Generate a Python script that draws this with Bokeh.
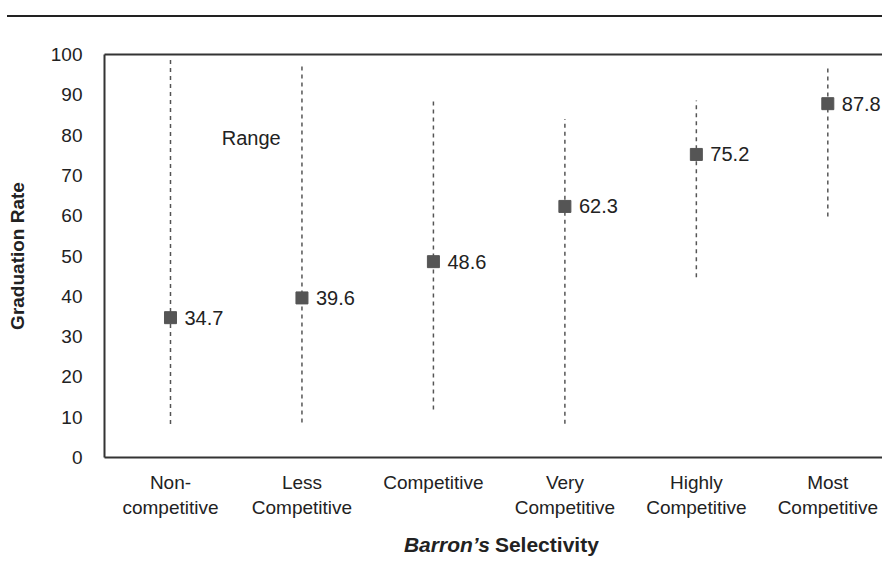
from bokeh.plotting import figure
from bokeh.models import Range1d, FixedTicker, LinearAxis, Label, ColumnDataSource, Div
from bokeh.layouts import column
from bokeh.embed import file_html
from bokeh.resources import INLINE
from bokeh.core.properties import value

# ---- data ----
categories = ["Non-\ncompetitive", "Less\nCompetitive", "Competitive",
              "Very\nCompetitive", "Highly\nCompetitive", "Most\nCompetitive"]
means = [34.7, 39.6, 48.6, 62.3, 75.2, 87.8]
range_low = [8.3, 8.7, 11.9, 8.4, 44.7, 59.8]
range_high = [99.0, 97.5, 88.5, 84.0, 88.6, 97.0]
y_ticks = [0, 10, 20, 30, 40, 50, 60, 70, 80, 90, 100]
y_title = "Graduation Rate"
x_title_italic = "Barron\u2019s"
x_title_rest = "Selectivity"
range_label = "Range"

FONT = "Liberation Sans"
TXT = "#222222"
X_LO, X_HI = -0.502, 5.416

xs = list(range(len(categories)))
src = ColumnDataSource(dict(x=xs, mean=means, lo=range_low, hi=range_high,
                            lab=[f"{m}" for m in means]))

# ---- top rule ----
top = Div(text='<div style="margin:15px 0 0 7px;width:875px;height:2px;background:#222222;"></div>',
          width=882, height=32, margin=0)

# ---- main chart ----
p = figure(width=882, height=495, x_range=Range1d(X_LO, X_HI), y_range=Range1d(0, 100),
           toolbar_location=None, output_backend="svg",
           min_border_left=104, min_border_right=0, min_border_top=22, min_border_bottom=70)
p.outline_line_color = None
p.grid.visible = False
p.background_fill_color = "white"
p.border_fill_color = "white"

p.segment(x0="x", y0="lo", x1="x", y1="hi", source=src, line_dash="4 4",
          line_width=1.5, color="#555555")
p.scatter(x="x", y="mean", source=src, marker="square", size=12,
          fill_color="#555555", line_color="#555555")
p.text(x="x", y="mean", text="lab", source=src, x_offset=14, text_baseline="middle",
       text_font=value(FONT), text_font_size="20px", text_color=TXT)

p.add_layout(Label(x=0.39, y=79.2, text=range_label, text_baseline="middle",
                   text_font=FONT, text_font_size="20px", text_color=TXT))

# y axis
ya = p.yaxis[0]
ya.ticker = FixedTicker(ticks=y_ticks)
ya.major_tick_out = 0
ya.major_tick_in = 0
ya.minor_tick_out = 0
ya.minor_tick_in = 0
ya.axis_line_width = 2
ya.axis_line_color = "#333333"
ya.major_label_standoff = 22
ya.major_label_text_font = FONT
ya.major_label_text_font_size = "19px"
ya.major_label_text_color = TXT
ya.axis_label = y_title
ya.axis_label_text_font = FONT
ya.axis_label_text_font_size = "19px"
ya.axis_label_text_font_style = "bold"
ya.axis_label_text_color = TXT
ya.axis_label_standoff = 20

# x axis
xa = p.xaxis[0]
xa.ticker = FixedTicker(ticks=xs)
xa.major_label_overrides = {i: c for i, c in zip(xs, categories)}
xa.major_tick_out = 0
xa.major_tick_in = 0
xa.minor_tick_out = 0
xa.minor_tick_in = 0
xa.axis_line_width = 2
xa.axis_line_color = "#333333"
xa.major_label_standoff = 14
xa.major_label_text_font = FONT
xa.major_label_text_font_size = "19px"
xa.major_label_text_color = TXT

# top border line
ta = LinearAxis(ticker=FixedTicker(ticks=[]), axis_line_width=2, axis_line_color="#333333",
                major_tick_out=0, major_tick_in=0, minor_tick_out=0, minor_tick_in=0,
                major_label_text_font_size="0px")
p.add_layout(ta, "above")

# ---- x axis title (mixed style) ----
bot = figure(width=882, height=45, x_range=Range1d(X_LO, X_HI), y_range=Range1d(0, 1),
             toolbar_location=None, output_backend="svg",
             min_border_left=104, min_border_right=0, min_border_top=0, min_border_bottom=0)
bot.axis.visible = False
bot.grid.visible = False
bot.outline_line_color = None
bot.text(x=[2.445], y=[0.62], text=[x_title_italic], x_offset=-2, text_align="right",
         text_baseline="middle", text_font=value(FONT), text_font_size="21px",
         text_font_style="bold italic", text_color=TXT)
bot.text(x=[2.445], y=[0.62], text=[x_title_rest], x_offset=3, text_align="left",
         text_baseline="middle", text_font=value(FONT), text_font_size="21px",
         text_font_style="bold", text_color=TXT)

layout = column(top, p, bot)
open("out.html", "w").write(file_html(layout, INLINE))
